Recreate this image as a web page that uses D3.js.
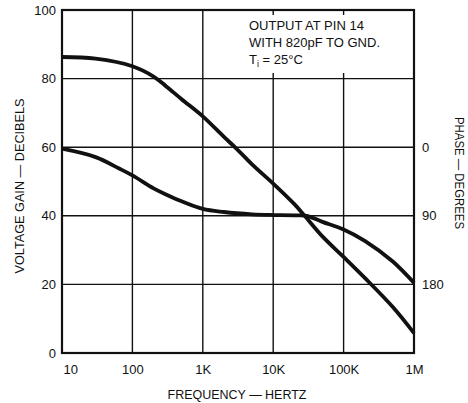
<!DOCTYPE html>
<html>
<head>
<meta charset="utf-8">
<script src="https://cdn.jsdelivr.net/npm/d3@7"></script>
<style>
  html, body { margin: 0; padding: 0; background: #fff; }
  svg { display: block; }
  text { font-family: "Liberation Sans", Arial, Helvetica, sans-serif; fill: #111; }
</style>
</head>
<body>
<svg id="chart" width="468" height="403"></svg>
<script>
// ---- data ----
const freqTicks = [10, 100, 1e3, 1e4, 1e5, 1e6];
const freqTickLabels = ["10", "100", "1K", "10K", "100K", "1M"];
const gainTicks = [0, 20, 40, 60, 80, 100];
const phaseTicks = [0, 90, 180];

const gainFreq = [10, 30, 100, 200, 300, 500, 1e3, 2e3, 3e3, 5e3, 1e4, 2e4, 2.8e4, 5e4, 1e5, 2e5, 5e5, 1e6];
const gainDb   = [86.3, 85.8, 83.6, 80.6, 77.8, 74, 69, 63, 59.6, 55, 49.4, 43.4, 40, 34, 28, 21.9, 13.4, 5.8];

const phaseFreq = [10, 30, 65, 100, 200, 300, 500, 1e3, 2e3, 5e3, 1e4, 2e4, 3e4, 5e4, 1e5, 2e5, 5e5, 7e5, 1e6];
const phaseDeg  = [2, 13, 28, 37, 54, 62, 71, 81, 85, 88, 89, 89.5, 90, 98, 108, 123, 150, 163, 178];

const noteLines = ["OUTPUT AT PIN 14", "WITH 820pF TO GND."];

// ---- layout ----
const svg = d3.select("#chart");
const mLeft = 62, mRight = 414, mTop = 10, mBottom = 353;

const x = d3.scaleLog().domain([10, 1e6]).range([mLeft, mRight]);
const y = d3.scaleLinear().domain([0, 100]).range([mBottom, mTop]);
// phase: 0deg at 60dB, 180deg at 20dB
const yPhase = d3.scaleLinear().domain([0, 180]).range([y(60), y(20)]);

svg.append("rect").attr("width", 468).attr("height", 403).attr("fill", "#fff");

// grid
const grid = svg.append("g").attr("stroke", "#111").attr("stroke-width", 1.4);
grid.selectAll("line.v").data(freqTicks.slice(1, -1)).enter().append("line")
  .attr("x1", d => x(d)).attr("x2", d => x(d)).attr("y1", mTop).attr("y2", mBottom);
grid.selectAll("line.h").data(gainTicks.slice(1, -1)).enter().append("line")
  .attr("x1", mLeft).attr("x2", mRight).attr("y1", d => y(d)).attr("y2", d => y(d));

// white box behind note
svg.append("rect").attr("x", 240).attr("y", 15).attr("width", mRight - 241).attr("height", 58).attr("fill", "#fff");

// frame
svg.append("rect").attr("x", mLeft).attr("y", mTop).attr("width", mRight - mLeft).attr("height", mBottom - mTop)
  .attr("fill", "none").attr("stroke", "#111").attr("stroke-width", 2.2);

// axes (text only)
const xAxis = d3.axisBottom(x).tickValues(freqTicks).tickFormat((d, i) => freqTickLabels[i]).tickSize(0).tickPadding(12);
const gx = svg.append("g").attr("transform", `translate(0,${mBottom})`).call(xAxis);
gx.select(".domain").remove();
gx.selectAll("text").attr("font-size", 13).attr("font-family", "Liberation Sans, Arial, sans-serif").attr("fill", "#111")
  .attr("text-anchor", (d, i) => i === 0 ? "start" : "middle").attr("dx", (d, i) => i === 0 ? 1 : 0);

const yAxis = d3.axisLeft(y).tickValues(gainTicks).tickFormat(d3.format("d")).tickSize(0).tickPadding(6);
const gy = svg.append("g").attr("transform", `translate(${mLeft},0)`).call(yAxis);
gy.select(".domain").remove();
gy.selectAll("text").attr("font-size", 13).attr("font-family", "Liberation Sans, Arial, sans-serif").attr("fill", "#111");

const yAxisR = d3.axisRight(yPhase).tickValues(phaseTicks).tickFormat(d3.format("d")).tickSize(0).tickPadding(8);
const gr = svg.append("g").attr("transform", `translate(${mRight},0)`).call(yAxisR);
gr.select(".domain").remove();
gr.selectAll("text").attr("font-size", 13).attr("font-family", "Liberation Sans, Arial, sans-serif").attr("fill", "#111");

// curves
const gainLine = d3.line().x((d, i) => x(gainFreq[i])).y(d => y(d)).curve(d3.curveCatmullRom.alpha(0.5));
const phaseLine = d3.line().x((d, i) => x(phaseFreq[i])).y(d => yPhase(d)).curve(d3.curveCatmullRom.alpha(0.5));

svg.append("path").attr("d", gainLine(gainDb)).attr("fill", "none").attr("stroke", "#111")
  .attr("stroke-width", 3.8).attr("stroke-linejoin", "round");
svg.append("path").attr("d", phaseLine(phaseDeg)).attr("fill", "none").attr("stroke", "#111")
  .attr("stroke-width", 3.8).attr("stroke-linejoin", "round");

// axis titles
svg.append("text").attr("transform", "translate(24,186) rotate(-90)").attr("text-anchor", "middle")
  .attr("font-size", 13).attr("textLength", 175).attr("lengthAdjust", "spacingAndGlyphs")
  .text("VOLTAGE GAIN — DECIBELS");
svg.append("text").attr("transform", "translate(455,173) rotate(90)").attr("text-anchor", "middle")
  .attr("font-size", 13).attr("textLength", 112).attr("lengthAdjust", "spacingAndGlyphs")
  .text("PHASE — DEGREES");
svg.append("text").attr("x", 237).attr("y", 399).attr("text-anchor", "middle")
  .attr("font-size", 13).attr("textLength", 139).attr("lengthAdjust", "spacingAndGlyphs")
  .text("FREQUENCY — HERTZ");

// note
const note = svg.append("text").attr("font-size", 13);
noteLines.forEach((t, i) => note.append("tspan").attr("x", 249).attr("y", 30 + i * 17).text(t));
note.append("tspan").attr("x", 249).attr("y", 64).text("T");
note.append("tspan").attr("font-size", 9).attr("dy", 3).text("i");
note.append("tspan").attr("dy", -3).text(" = 25°C");
</script>
</body>
</html>
